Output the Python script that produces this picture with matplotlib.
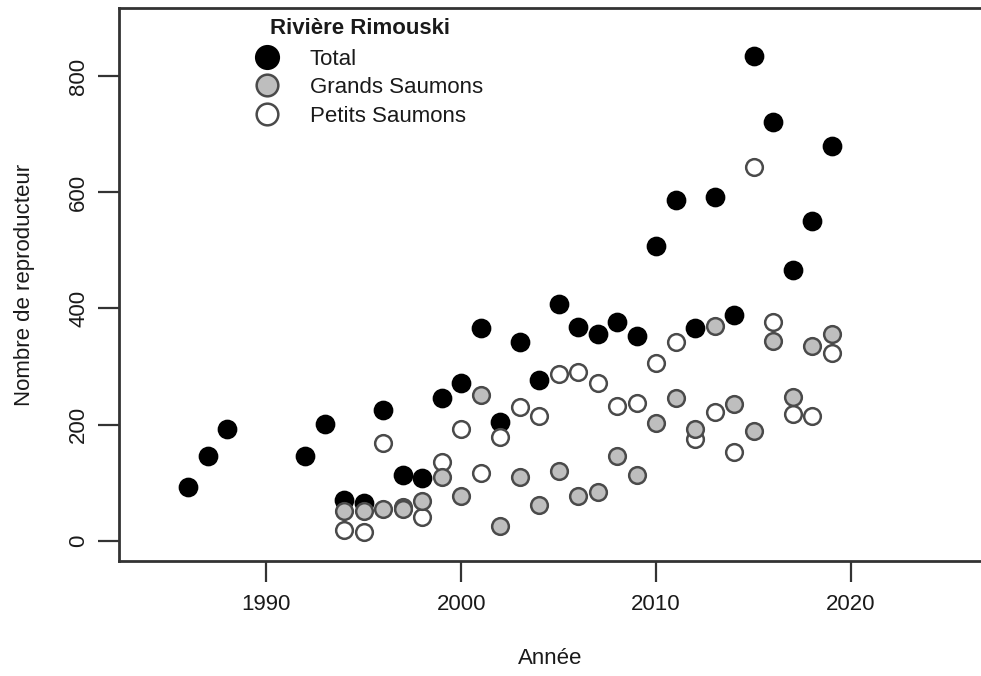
import matplotlib
matplotlib.use("Agg")
import matplotlib.pyplot as plt

plt.rcParams['font.family'] = ['Liberation Sans', 'DejaVu Sans']

# Data
years_total = [1986, 1987, 1988, 1992, 1993, 1994, 1995, 1996, 1997, 1998, 1999,
               2000, 2001, 2002, 2003, 2004, 2005, 2006, 2007, 2008, 2009, 2010,
               2011, 2012, 2013, 2014, 2015, 2016, 2017, 2018, 2019]
total = [93, 146, 193, 146, 201, 71, 66, 225, 114, 108, 246,
         271, 366, 205, 342, 277, 408, 368, 356, 376, 352, 508,
         587, 367, 592, 389, 834, 720, 467, 550, 680]

years_sub = list(range(1994, 2020))
grands = [52, 52, 55, 55, 69, 110, 77, 251, 26, 110, 62, 120, 77, 84, 146, 114,
          203, 246, 193, 370, 236, 189, 344, 248, 335, 356]
petits = [19, 15, 169, 59, 41, 136, 193, 117, 179, 231, 215, 287, 291, 272, 232,
          237, 306, 342, 175, 222, 153, 643, 377, 218, 215, 323]

x_ticks = [1990, 2000, 2010, 2020]
y_ticks = [0, 200, 400, 600, 800]

FS = 16
TXT = '#1a1a1a'

fig = plt.figure(figsize=(9.81, 6.76), dpi=100)
ax = fig.add_axes([118.5 / 981, (676 - 561) / 676, (981 - 118.5) / 981, (561 - 8) / 676])

ms = 13
h_total, = ax.plot(years_total, total, 'o', ms=ms, mfc='black', mec='black', mew=1.2,
                   linestyle='none', label='Total', zorder=3)
h_petits, = ax.plot(years_sub, petits, 'o', ms=ms - 1, mfc='white', mec='#4a4a4a', mew=1.8,
                    linestyle='none', label='Petits Saumons', zorder=4)
h_grands, = ax.plot(years_sub, grands, 'o', ms=ms - 1, mfc='#bebebe', mec='#4a4a4a', mew=1.8,
                    linestyle='none', label='Grands Saumons', zorder=5)

ax.set_xlim(1982.42, 2026.67)
ax.set_ylim(-34.5, 917)
ax.set_xticks(x_ticks)
ax.set_yticks(y_ticks)
ax.set_xticklabels([str(t) for t in x_ticks], fontsize=FS, color=TXT)
ax.set_yticklabels([str(t) for t in y_ticks], fontsize=FS, rotation=90, va='center',
                   color=TXT)
ax.tick_params(axis='both', direction='out', length=15, width=1.6, color='#333333')
ax.tick_params(axis='x', pad=8.5)
ax.tick_params(axis='y', pad=6)

for s in ['left', 'bottom', 'top']:
    ax.spines[s].set_linewidth(2.0)
    ax.spines[s].set_color('#333333')
ax.spines['right'].set_visible(False)

ax.set_xlabel('Année', fontsize=FS, color=TXT, labelpad=24)
ax.set_ylabel('Nombre de reproducteur', fontsize=FS, color=TXT, labelpad=24)

leg = ax.legend(handles=[h_total, h_grands, h_petits], loc='upper left',
                bbox_to_anchor=(0.157, 0.926), frameon=False, fontsize=FS,
                markerscale=1.3, labelspacing=0.33, handletextpad=1.32, handlelength=1.2,
                borderpad=0.0, borderaxespad=0.0)
for t in leg.get_texts():
    t.set_color(TXT)

fig.text(270 / 981, 1 - 28 / 676, 'Rivière Rimouski', fontsize=FS, fontweight='bold',
         ha='left', va='center', color=TXT)

fig.savefig('out.png', dpi=100)
